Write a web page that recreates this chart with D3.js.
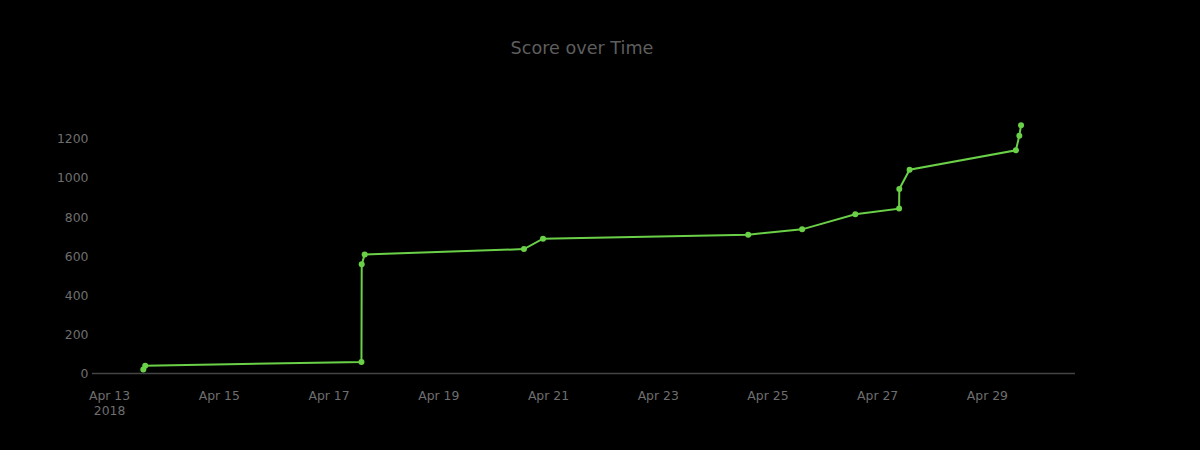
<!DOCTYPE html>
<html>
<head>
<meta charset="utf-8">
<script src="https://cdn.jsdelivr.net/npm/d3@7"></script>
<style>
  html, body { margin: 0; padding: 0; background: #000; }
  svg { display: block; }
</style>
</head>
<body>
<svg id="chart" width="1200" height="450"></svg>
<script>
const timestamps = [
  "2018-04-13T15:00", "2018-04-13T15:50", "2018-04-17T14:25", "2018-04-17T14:32",
  "2018-04-17T15:50", "2018-04-20T13:30", "2018-04-20T21:50", "2018-04-24T15:35",
  "2018-04-25T15:10", "2018-04-26T14:25", "2018-04-27T09:35", "2018-04-27T09:40",
  "2018-04-27T14:10", "2018-04-29T12:40", "2018-04-29T14:10", "2018-04-29T14:55"
];
const scores = [21, 40, 59, 558, 609, 636, 689, 710, 737, 814, 843, 943, 1042, 1141, 1216, 1269];
const yTicks = [0, 200, 400, 600, 800, 1000, 1200];
const xTickDates = ["2018-04-13", "2018-04-15", "2018-04-17", "2018-04-19", "2018-04-21",
                    "2018-04-23", "2018-04-25", "2018-04-27", "2018-04-29"];
const titleText = "Score over Time";

const svg = d3.select("#chart");
const parse = d3.timeParse("%Y-%m-%dT%H:%M");
const parseDay = d3.timeParse("%Y-%m-%d");
const data = timestamps.map((t, i) => ({ t: parse(t), v: scores[i] }));

const apr13 = parseDay("2018-04-13");
const dayMs = 86400000;
const x = d3.scaleTime()
  .domain([new Date(+apr13 - 0.31 * dayMs), new Date(+apr13 + 17.605 * dayMs)])
  .range([92, 1075]);
const y = d3.scaleLinear().domain([0, 1200]).range([373.5, 138.8]);

const font = "'DejaVu Sans', Verdana, sans-serif";
const tickColor = "#6e6e6e";

// title
svg.append("text")
  .attr("x", 582).attr("y", 54)
  .attr("text-anchor", "middle")
  .attr("fill", "#5e5e5e")
  .style("font-family", font).style("font-size", "17.6px")
  .text(titleText);

// y axis
const yAxis = svg.append("g").attr("transform", "translate(92,0)")
  .call(d3.axisLeft(y).tickValues(yTicks).tickSize(0).tickPadding(3.5).tickFormat(d3.format("d")));
yAxis.select(".domain").remove();
yAxis.selectAll("text").attr("fill", tickColor).style("font-family", font).style("font-size", "12.4px");

// zero line
svg.append("line")
  .attr("x1", 92).attr("x2", 1075)
  .attr("y1", y(0)).attr("y2", y(0))
  .attr("stroke", "#444").attr("stroke-width", 1.5);

// x axis
const fmt = d3.timeFormat("%b %-d");
const xAxis = svg.append("g").attr("transform", `translate(0,${y(0)})`)
  .call(d3.axisBottom(x).tickValues(xTickDates.map(parseDay)).tickSize(0).tickPadding(18).tickFormat(fmt));
xAxis.select(".domain").remove();
xAxis.selectAll("text").attr("fill", tickColor).style("font-family", font).style("font-size", "12.4px");
xAxis.selectAll(".tick").filter((d, i) => i === 0).append("text")
  .attr("y", 33).attr("dy", "0.71em")
  .attr("fill", tickColor).attr("text-anchor", "middle")
  .style("font-family", font).style("font-size", "12.4px")
  .text("2018");

// line
const line = d3.line().x(d => x(d.t)).y(d => y(d.v));
svg.append("path").datum(data)
  .attr("d", line)
  .attr("fill", "none")
  .attr("stroke", "#6ad047")
  .attr("stroke-width", 2);

svg.selectAll("circle.pt").data(data).enter().append("circle")
  .attr("class", "pt")
  .attr("cx", d => x(d.t)).attr("cy", d => y(d.v))
  .attr("r", 3)
  .attr("fill", "#6ad047");
</script>
</body>
</html>
